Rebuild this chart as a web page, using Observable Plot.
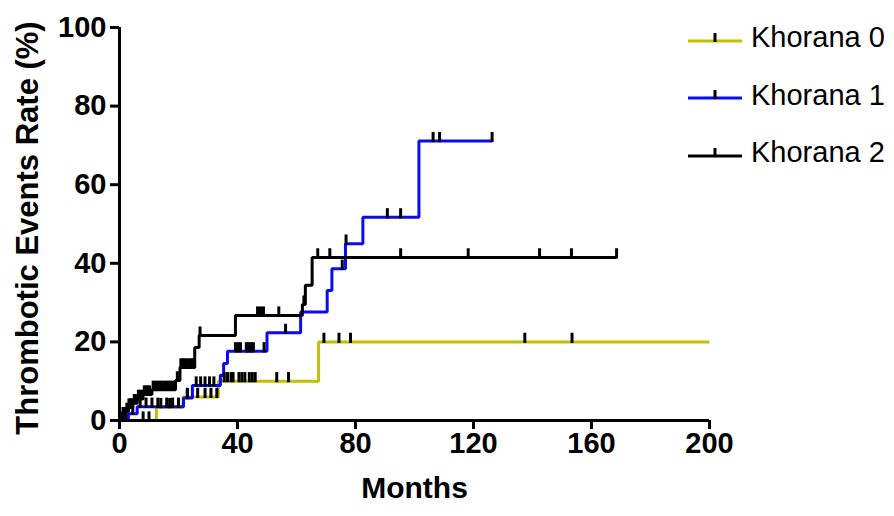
<!DOCTYPE html>
<html>
<head>
<meta charset="utf-8">
<script src="https://cdn.jsdelivr.net/npm/d3@7"></script>
<script src="https://cdn.jsdelivr.net/npm/@observablehq/plot@0.6"></script>
<style>
  html, body { margin: 0; padding: 0; background: #fff; }
  #wrap { position: relative; width: 894px; height: 516px; font-family: "Liberation Sans", Arial, sans-serif; }
  #wrap svg.plotsvg { position: absolute; left: 0; top: 0; }
  #legend { position: absolute; left: 688px; top: 9px; }
  .row { display: flex; align-items: center; height: 57.5px; }
  .row span { font-size: 29px; color: #000; margin-left: 9px; white-space: nowrap; }
</style>
</head>
<body>
<div id="wrap"><div id="legend"></div></div>
<script>
// ---- data ----
const seriesNames = ["Khorana 0", "Khorana 1", "Khorana 2"];
const seriesColors = ["#c4bd00", "#0a0af5", "#000000"];

// Khorana 0 (step times in months, cumulative rate %)
const k0Time = [0, 12.5, 21.5, 33.5, 67.5, 200];
const k0Rate = [0, 3.4, 6.0, 10.0, 20.0, 20.0];
const k0Censor = [8, 10, 14, 17, 23, 26.5, 29, 31, 33, 35.5, 36.6, 37.8, 38.5, 40.5, 41.5, 42.5, 44, 45, 46, 53.3, 57.3, 69.3, 74.4, 78.3, 137.4, 153.4];

// Khorana 1
const k1Time = [0, 3, 6, 21.7, 24.7, 34.2, 35.3, 36.6, 50, 61.4, 70.4, 72, 76.6, 82.5, 101.5, 126.3];
const k1Rate = [0, 1.7, 3.5, 5.7, 8.9, 11.5, 14.5, 17.6, 22.3, 27.6, 33.1, 38.6, 45.0, 51.7, 71.1, 71.1];
const k1Censor = [2, 4.5, 7, 9, 11, 13, 16, 18, 20, 23, 26, 27.5, 29, 30.5, 32, 39.3, 40.2, 41, 43, 43.8, 44.6, 45.4, 49, 56.3, 75.5, 76.8, 90.8, 95.3, 106.3, 108.5, 126.3];

// Khorana 2
const k2Time = [0, 1, 2, 3, 4.5, 6, 8, 11, 19, 20.5, 25.5, 27, 39.3, 62, 63, 65.3, 168.5];
const k2Rate = [0, 1.1, 2.2, 3.3, 4.4, 5.5, 6.6, 7.8, 10.2, 13.5, 18.6, 21.6, 26.7, 29.5, 34.4, 41.5, 41.5];
const k2Censor = [0.5, 1.2, 1.8, 2.5, 3.2, 3.8, 4.2, 5, 5.6, 6.4, 7, 7.6, 8.4, 9, 9.6, 10.2, 11.4, 12, 12.8, 13.5, 14.2, 15, 15.8, 16.5, 17.2, 18, 18.6, 19.6, 20.8, 21.5, 22.2, 23, 23.8, 24.5, 25.2, 27.3, 46.8, 47.8, 48.8, 54, 62.5, 67.2, 71.3, 95.3, 118.2, 142.4, 153.2, 168.5];

const xTicks = [0, 40, 80, 120, 160, 200];
const yTicks = [0, 20, 40, 60, 80, 100];

// ---- build tables ----
const series = [
  {name: seriesNames[0], color: seriesColors[0], t: k0Time, v: k0Rate, c: k0Censor},
  {name: seriesNames[1], color: seriesColors[1], t: k1Time, v: k1Rate, c: k1Censor},
  {name: seriesNames[2], color: seriesColors[2], t: k2Time, v: k2Rate, c: k2Censor}
];
function levelAt(s, x) {
  let v = 0;
  for (let i = 0; i < s.t.length; i++) if (s.t[i] <= x) v = s.v[i];
  return v;
}
const steps = series.flatMap(s => s.t.map((t, i) => ({name: s.name, t, v: s.v[i]})));
const censors = series.flatMap(s => s.c.map(x => ({name: s.name, t: x, v: levelAt(s, x)})));

const font = "'Liberation Sans', Arial, sans-serif";

const chart = Plot.plot({
  width: 894,
  height: 516,
  marginLeft: 119,
  marginRight: 185,
  marginTop: 27,
  marginBottom: 96,
  style: {fontFamily: font, fontSize: "29px", fontWeight: "bold", color: "#000", background: "transparent"},
  x: {domain: [0, 200]},
  y: {domain: [0, 100]},
  color: {domain: seriesNames, range: seriesColors},
  marks: [
    Plot.line(steps, {x: "t", y: "v", z: "name", stroke: "name", curve: "step-after", strokeWidth: 3, strokeLinejoin: "miter", strokeLinecap: "butt"}),
    Plot.ruleX(censors, {x: "t", y1: d => d.v - 0.4, y2: d => d.v + 2.2, stroke: "#000", strokeWidth: 3}),
    Plot.ruleY([0], {x1: 0, x2: 200, stroke: "#000", strokeWidth: 3}),
    Plot.ruleX([0], {y1: 0, y2: 100, stroke: "#000", strokeWidth: 3}),
    Plot.axisX({ticks: xTicks, tickSize: 9, tickPadding: 3, strokeWidth: 3, label: null, tickFormat: d => String(d)}),
    Plot.axisY({ticks: yTicks, tickSize: 9, tickPadding: 4, strokeWidth: 3, label: null, tickFormat: d => String(d)}),
    Plot.text(["Months"], {frameAnchor: "bottom", dy: 77, fontSize: 30, fontWeight: "bold", textAnchor: "middle"}),
    Plot.text(["Thrombotic Events Rate (%)"], {frameAnchor: "left", dx: -91, dy: 4, rotate: -90, fontSize: 31, fontWeight: "bold", textAnchor: "middle"})
  ]
});
chart.classList.add("plotsvg");
document.getElementById("wrap").appendChild(chart);

// legend
const legend = document.getElementById("legend");
series.forEach(s => {
  const row = document.createElement("div");
  row.className = "row";
  row.innerHTML = `<svg width="54" height="14"><line x1="0" y1="10" x2="54" y2="10" stroke="${s.color}" stroke-width="3"/><line x1="27" y1="2" x2="27" y2="11" stroke="#000" stroke-width="3"/></svg><span>${s.name}</span>`;
  legend.appendChild(row);
});
</script>
</body>
</html>
